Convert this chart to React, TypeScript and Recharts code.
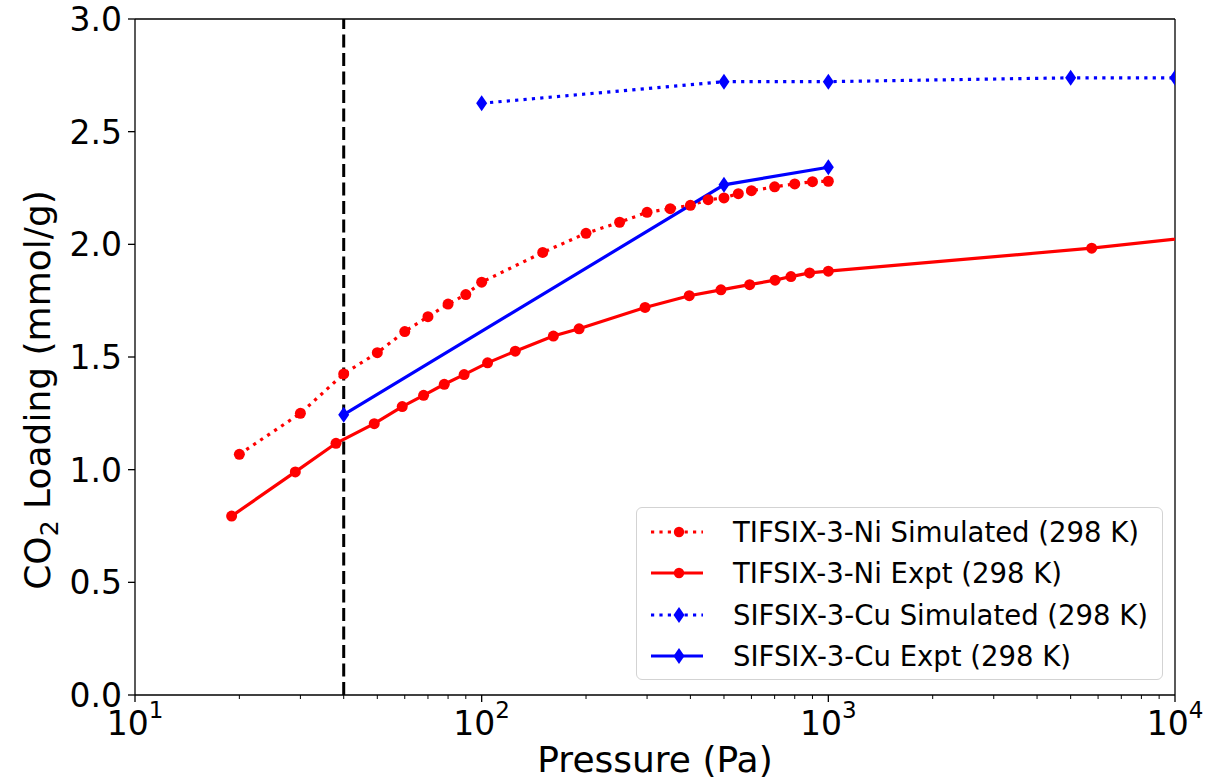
import React from 'react';
import { LineChart, Line, XAxis, YAxis, ReferenceLine, Legend, Label } from 'recharts';

// ---------- data ----------
const tifsixSimPressure = [20, 30, 40, 50, 60, 70, 80, 90, 100, 150, 200, 250, 300, 350, 400, 450, 500, 550, 600, 700, 800, 900, 1000];
const tifsixSimLoading = [1.068, 1.25, 1.425, 1.519, 1.613, 1.679, 1.735, 1.777, 1.832, 1.964, 2.049, 2.098, 2.142, 2.158, 2.173, 2.198, 2.206, 2.225, 2.238, 2.255, 2.268, 2.278, 2.28];

const tifsixExptPressure = [19, 29, 38, 49, 59, 68, 78, 89, 104, 125, 161, 191, 296, 397, 490, 593, 702, 780, 883, 1000, 5750, 100000];
const tifsixExptLoading = [0.794, 0.99, 1.117, 1.204, 1.28, 1.33, 1.379, 1.422, 1.474, 1.526, 1.593, 1.625, 1.72, 1.772, 1.798, 1.821, 1.841, 1.857, 1.873, 1.881, 1.983, 2.19];

const sifsixSimPressure = [100, 500, 1000, 5000, 10000];
const sifsixSimLoading = [2.626, 2.722, 2.722, 2.739, 2.739];

const sifsixExptPressure = [40, 500, 1000];
const sifsixExptLoading = [1.244, 2.264, 2.342];

const seriesNames = [
  'TIFSIX-3-Ni Simulated (298 K)',
  'TIFSIX-3-Ni Expt (298 K)',
  'SIFSIX-3-Cu Simulated (298 K)',
  'SIFSIX-3-Cu Expt (298 K)',
];

const majorXTicks = [10, 100, 1000, 10000];
const minorXTicks = [20, 30, 40, 50, 60, 70, 80, 90, 200, 300, 400, 500, 600, 700, 800, 900, 2000, 3000, 4000, 5000, 6000, 7000, 8000, 9000];
const yTicks = [0, 0.5, 1.0, 1.5, 2.0, 2.5, 3.0];
const referencePressure = 40;

const zip = (xs: number[], ys: number[]) => xs.map((p, i) => ({ p, v: ys[i] }));
const tifsixSim = zip(tifsixSimPressure, tifsixSimLoading);
const tifsixExpt = zip(tifsixExptPressure, tifsixExptLoading);
const sifsixSim = zip(sifsixSimPressure, sifsixSimLoading);
const sifsixExpt = zip(sifsixExptPressure, sifsixExptLoading);

// ---------- styles ----------
const FONT = '"DejaVu Sans", sans-serif';
const RED = '#ff0000';
const BLUE = '#0000ff';
const LW = 3.2;
const DOTTED = '3.2 5.2';

const XTick = (props: any) => {
  const { x, y, payload } = props;
  const v = payload.value;
  const major = majorXTicks.includes(v);
  if (!major) {
    return <line x1={x} x2={x} y1={y} y2={y + 4} stroke="#000" strokeWidth={1} />;
  }
  const exp = Math.round(Math.log10(v));
  return (
    <g>
      <line x1={x} x2={x} y1={y} y2={y + 7} stroke="#000" strokeWidth={1.3} />
      <text x={x} y={y + 40} textAnchor="middle" fontSize={33} fontFamily={FONT} fill="#000">
        <tspan>10</tspan>
        <tspan dy={-17} fontSize={23}>{exp}</tspan>
      </text>
    </g>
  );
};

const YTick = (props: any) => {
  const { x, y, payload } = props;
  return (
    <g>
      <line x1={x - 7} x2={x} y1={y} y2={y} stroke="#000" strokeWidth={1.3} />
      <text x={x - 13} y={y} dy="0.36em" textAnchor="end" fontSize={33} fontFamily={FONT} fill="#000">
        {payload.value.toFixed(1)}
      </text>
    </g>
  );
};

const Diamond = (props: any) => {
  const { cx, cy, fill } = props;
  if (cx == null || cy == null) return <g />;
  return <path d={`M${cx},${cy - 8} L${cx + 5.5},${cy} L${cx},${cy + 8} L${cx - 5.5},${cy} Z`} fill={fill} stroke="none" />;
};

const legendSpecs = [
  { name: seriesNames[0], color: RED, dash: DOTTED, marker: 'circle' },
  { name: seriesNames[1], color: RED, dash: undefined, marker: 'circle' },
  { name: seriesNames[2], color: BLUE, dash: DOTTED, marker: 'diamond' },
  { name: seriesNames[3], color: BLUE, dash: undefined, marker: 'diamond' },
];

const LegendContent = () => (
  <div
    style={{
      width: 527,
      height: 173,
      boxSizing: 'border-box',
      border: '1.3px solid #d3d3d3',
      borderRadius: 6,
      background: 'rgba(255,255,255,0.85)',
      paddingTop: 3,
    }}
  >
    {legendSpecs.map((s) => (
      <div key={s.name} style={{ display: 'flex', alignItems: 'center', height: 41.5 }}>
        <svg width={96} height={30} style={{ flex: 'none' }}>
          <line x1={14} x2={66} y1={15} y2={15} stroke={s.color} strokeWidth={LW} strokeDasharray={s.dash} />
          {s.marker === 'circle' ? (
            <circle cx={42} cy={15} r={5.2} fill={s.color} />
          ) : (
            <path d="M42,7 L47.5,15 L42,23 L36.5,15 Z" fill={s.color} />
          )}
        </svg>
        <span style={{ fontFamily: FONT, fontSize: 27.5, color: '#000', whiteSpace: 'nowrap' }}>{s.name}</span>
      </div>
    ))}
  </div>
);

const YLabel = () => (
  <text
    x={50}
    y={390}
    transform="rotate(-90 50 390)"
    textAnchor="middle"
    fontSize={36}
    fontFamily={FONT}
    fill="#000"
  >
    <tspan>CO</tspan>
    <tspan dy={8} fontSize={25}>2</tspan>
    <tspan dy={-8}> Loading (mmol/g)</tspan>
  </text>
);

export default function App() {
  return (
    <div style={{ position: 'absolute', left: 0, top: 0, width: 1209, height: 782, background: '#fff' }}>
      <LineChart width={1209} height={782} margin={{ top: 19, right: 34, bottom: 0, left: 0 }}>
        <XAxis
          type="number"
          dataKey="p"
          scale="log"
          domain={[10, 10000]}
          allowDataOverflow
          ticks={[...majorXTicks, ...minorXTicks]}
          interval={0}
          tick={<XTick />}
          tickLine={false}
          tickSize={0}
          tickMargin={0}
          axisLine={{ stroke: '#000', strokeWidth: 1.3 }}
          height={87}
        >
          <Label
            value="Pressure (Pa)"
            position="insideBottom"
            content={(p: any) => {
              const vb = p.viewBox;
              return (
                <text x={vb.x + vb.width / 2} y={772} textAnchor="middle" fontSize={36} fontFamily={FONT} fill="#000">
                  Pressure (Pa)
                </text>
              );
            }}
          />
        </XAxis>
        <YAxis
          type="number"
          dataKey="v"
          domain={[0, 3]}
          allowDataOverflow
          ticks={yTicks}
          interval={0}
          tick={<YTick />}
          tickLine={false}
          tickSize={0}
          tickMargin={0}
          axisLine={{ stroke: '#000', strokeWidth: 1.3 }}
          width={135}
        >
          <Label content={() => <YLabel />} />
        </YAxis>
        <ReferenceLine y={3} stroke="#000" strokeWidth={1.3} />
        <ReferenceLine x={10000} stroke="#000" strokeWidth={1.3} />
        <Line
          data={tifsixSim}
          dataKey="v"
          name={seriesNames[0]}
          stroke={RED}
          strokeWidth={LW}
          strokeDasharray={DOTTED}
          dot={{ r: 5.5, fill: RED, stroke: 'none', strokeDasharray: '' }}
          isAnimationActive={false}
          type="linear"
        />
        <Line
          data={tifsixExpt}
          dataKey="v"
          name={seriesNames[1]}
          stroke={RED}
          strokeWidth={LW}
          dot={{ r: 5.5, fill: RED, stroke: 'none' }}
          isAnimationActive={false}
          type="linear"
        />
        <Line
          data={sifsixSim}
          dataKey="v"
          name={seriesNames[2]}
          stroke={BLUE}
          strokeWidth={LW}
          strokeDasharray={DOTTED}
          dot={(p: any) => <Diamond key={`ss-${p.index}`} {...p} fill={BLUE} />}
          isAnimationActive={false}
          type="linear"
        />
        <Line
          data={sifsixExpt}
          dataKey="v"
          name={seriesNames[3]}
          stroke={BLUE}
          strokeWidth={LW}
          dot={(p: any) => <Diamond key={`se-${p.index}`} {...p} fill={BLUE} />}
          isAnimationActive={false}
          type="linear"
        />
        <ReferenceLine x={referencePressure} stroke="#000" strokeWidth={3} strokeDasharray="13 5.5" />
        <Legend
          layout="vertical"
          align="center"
          verticalAlign="middle"
          content={() => <LegendContent />}
          wrapperStyle={{ position: 'absolute', left: 636, top: 507, width: 527, height: 173 }}
        />
      </LineChart>
    </div>
  );
}
